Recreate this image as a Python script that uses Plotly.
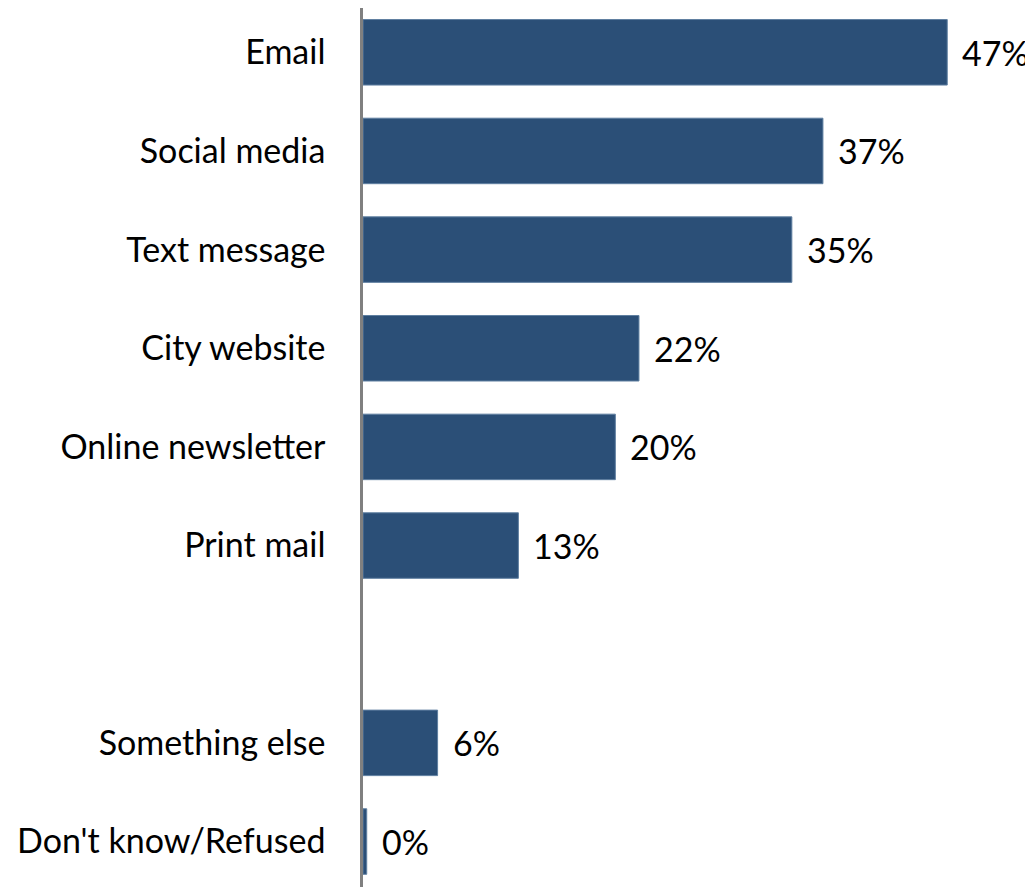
import plotly.graph_objects as go

categories = ["Email", "Social media", "Text message", "City website", "Online newsletter",
              "Print mail", " ", "Something else", "Don't know/Refused"]
values = [47, 37, 34.5, 22.2, 20.3, 12.5, None, 6, 0.3]
labels = ["47%", "37%", "35%", "22%", "20%", "13%", "", "6%", "0%"]

BAR = "#2B4F77"
FONT = "Lato"
FS = 34

fig = go.Figure(go.Bar(
    x=values, y=categories, orientation="h",
    marker=dict(color=BAR, line=dict(color="#5F7FA0", width=1)),
    width=0.664,
))

for c, v, t in zip(categories, values, labels):
    if v is None:
        continue
    fig.add_annotation(x=v, y=c, text=t, showarrow=False, xanchor="left",
                       xshift=13, font=dict(family=FONT, size=FS, color="#000000"))

fig.update_layout(
    width=1025, height=879,
    margin=dict(l=355, r=0, t=0, b=0),
    plot_bgcolor="white", paper_bgcolor="white",
    showlegend=False,
    font=dict(family=FONT, size=FS, color="#000000"),
)
fig.update_xaxes(range=[0, 53.9], showgrid=False, showticklabels=False, zeroline=False,
                 showline=False, fixedrange=True)
fig.update_yaxes(categoryorder="array", categoryarray=categories,
                 range=[8.461, -0.449], showgrid=False, showline=True,
                 linecolor="#808080", linewidth=2.5, ticks="", ticklabelstandoff=28,
                 tickfont=dict(family=FONT, size=FS, color="#000000"))

fig.write_html("out.html")
